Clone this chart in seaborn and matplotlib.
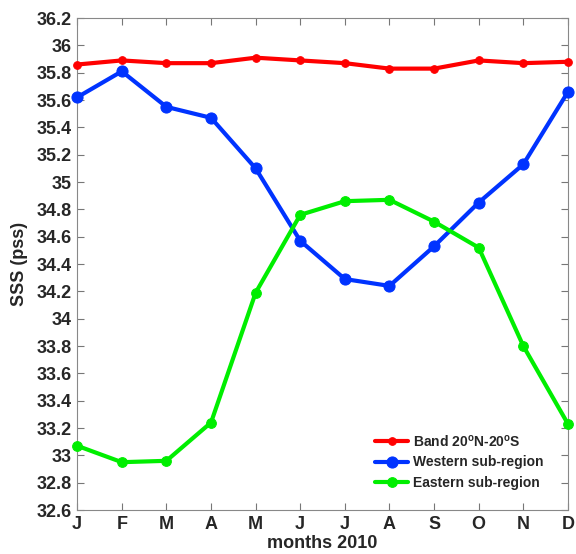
import numpy as np
import pandas as pd
import matplotlib
matplotlib.use("Agg")
from matplotlib import pyplot as plt
import seaborn as sns

##############################################

months = ["J", "F", "M", "A", "M", "J", "J", "A", "S", "O", "N", "D"]

band = [35.86, 35.89, 35.87, 35.87, 35.91, 35.89, 35.87, 35.83, 35.83, 35.89, 35.87, 35.88]
western = [35.62, 35.81, 35.55, 35.47, 35.10, 34.57, 34.29, 34.24, 34.53, 34.85, 35.13, 35.66]
eastern = [33.07, 32.95, 32.96, 33.24, 34.19, 34.76, 34.86, 34.87, 34.71, 34.52, 33.80, 33.23]

series_names = [
    r"Band 20$^\mathbf{o}$N-20$^\mathbf{o}$S",
    "Western sub-region",
    "Eastern sub-region",
]

##############################################

sns.set_style("ticks", {"xtick.direction": "in", "ytick.direction": "in"})
plt.rcParams["font.family"] = ["Liberation Sans", "DejaVu Sans"]
plt.rcParams["font.weight"] = "bold"
plt.rcParams["mathtext.fontset"] = "custom"
plt.rcParams["mathtext.rm"] = "Liberation Sans:bold"
plt.rcParams["mathtext.bf"] = "Liberation Sans:bold"

x = np.arange(len(months))
df = pd.DataFrame({"month": x, "band": band, "western": western, "eastern": eastern})

fig = plt.figure(figsize=(5.76, 5.54), dpi=100)
ax = fig.add_axes([0.134, 0.0794, 0.852, 0.888])

styles = [
    ("band", "#ff0000", 5.5, series_names[0]),
    ("western", "#0033ff", 8, series_names[1]),
    ("eastern", "#00ee00", 7, series_names[2]),
]
for col, color, msize, name in styles:
    sns.lineplot(
        data=df, x="month", y=col, ax=ax,
        color=color, linewidth=3, marker="o", markersize=msize,
        markeredgecolor=color, label=name, clip_on=False, zorder=3,
    )

yticks = np.round(np.arange(32.6, 36.21, 0.2), 1)
ax.set_xlim(0, 11)
ax.set_ylim(32.6, 36.2)
ax.set_xticks(x)
ax.set_xticklabels(months)
ax.set_yticks(yticks)
ax.set_yticklabels([f"{v:g}" for v in yticks])
ax.tick_params(top=True, right=True, length=5, width=0.8, color="#777777",
               labelsize=13, pad=4)
for lbl in ax.get_xticklabels() + ax.get_yticklabels():
    lbl.set_fontweight("bold")

for spine in ax.spines.values():
    spine.set_visible(True)
    spine.set_color("#888888")
    spine.set_linewidth(0.8)

ax.set_xlabel("months 2010", fontsize=13, fontweight="bold", labelpad=2)
ax.set_ylabel("SSS (pss)", fontsize=13, fontweight="bold", labelpad=6)

ax.legend(loc="lower right", bbox_to_anchor=(0.959, 0.033), frameon=False,
          prop={"weight": "bold", "size": 10}, handlelength=2.4,
          borderaxespad=0, labelspacing=0.45, borderpad=0.3,
          handletextpad=0.35)

fig.savefig("out.png", dpi=100)
plt.close()
